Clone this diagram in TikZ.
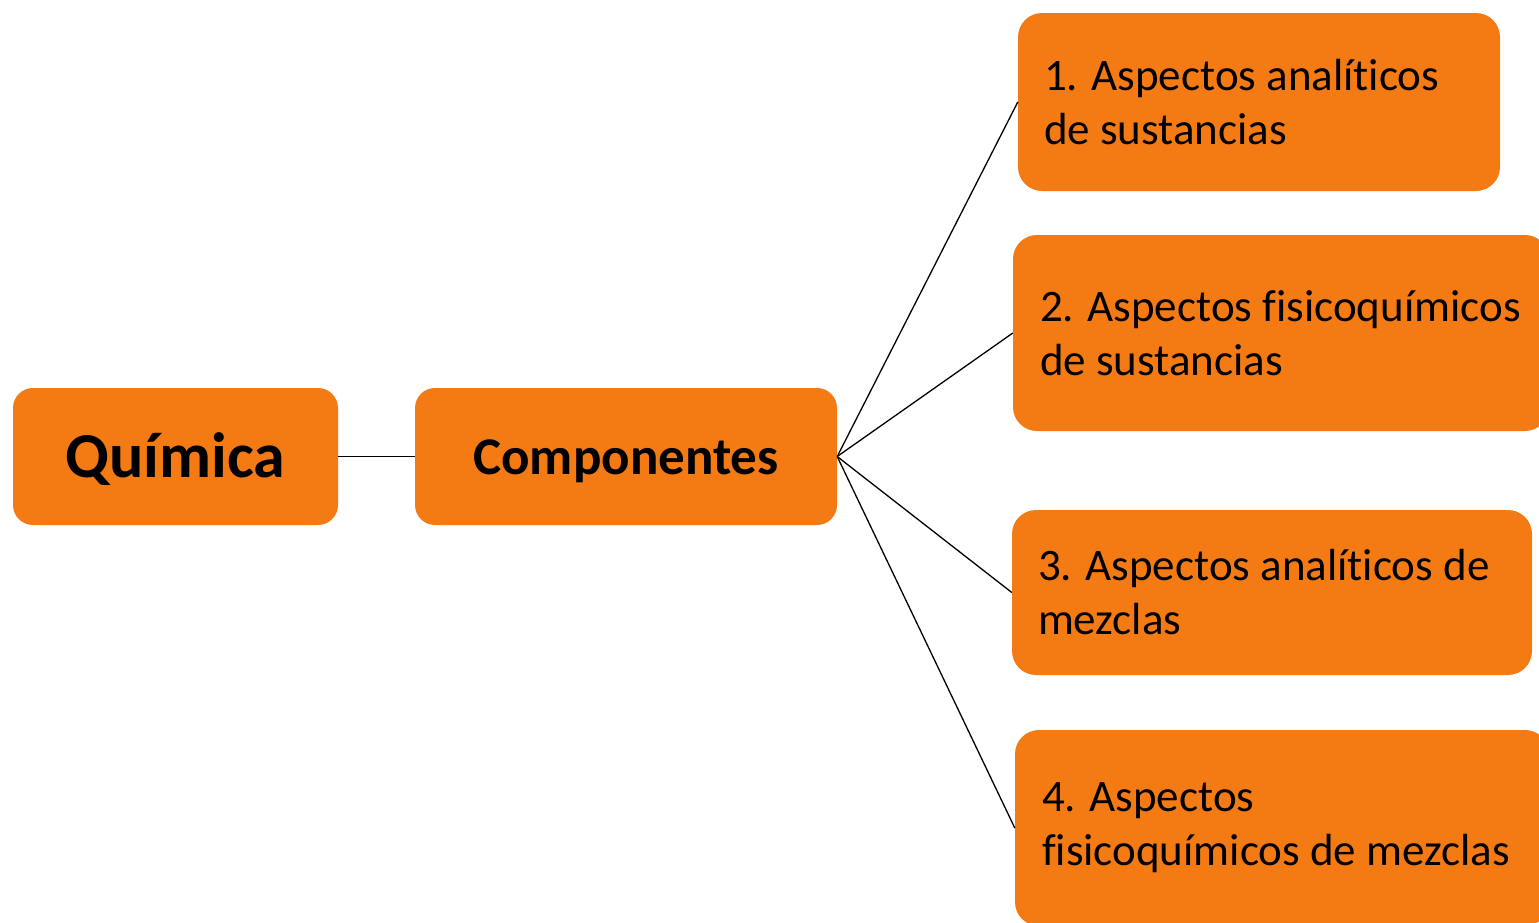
\documentclass[tikz,border=0pt]{standalone}
\usepackage{fontspec}
\setmainfont{Carlito}[Ligatures={NoCommon,NoContextual,NoRare}]
\definecolor{boxorange}{RGB}{244,122,20}
\begin{document}
\begin{tikzpicture}[x=1pt,y=-1pt,
  box/.style={fill=boxorange, draw=none, inner sep=0pt, rounded corners=24pt},
  btext/.style={anchor=west, inner sep=0pt, align=left, font=\fontsize{45}{54}\selectfont},
  conn/.style={draw=black, line width=1.3pt}]
\useasboundingbox (0,0) rectangle (1539,922);
\clip (0,0) rectangle (1539,922);
\node[box, rounded corners=20pt, minimum width=325pt, minimum height=137pt] (q) at (175.5,456.5) {};
\node[inner sep=0pt, font=\fontsize{64}{70}\selectfont\bfseries] (qt) at ([yshift=-3pt]q.center) {Química};
\node[box, rounded corners=20pt, minimum width=422pt, minimum height=137pt] (c) at (626,456.5) {};
\node[inner sep=0pt, font=\fontsize{53}{60}\selectfont\bfseries] (ct) at ([yshift=-5pt]c.center) {Componentes};
\node[box, minimum width=482pt, minimum height=178pt] (b1) at (1259,102) {};
\node[btext] (t1) at ([xshift=26pt]b1.west) {1. Aspectos analíticos\\de sustancias};
\node[box, minimum width=536pt, minimum height=196pt] (b2) at (1281,333) {};
\node[btext] (t2) at ([xshift=27pt]b2.west) {2. Aspectos fisicoquímicos\\de sustancias};
\node[box, minimum width=520pt, minimum height=165pt] (b3) at (1272,592.5) {};
\node[btext] (t3) at ([xshift=26pt]b3.west) {3. Aspectos analíticos de\\mezclas};
\node[box, minimum width=534pt, minimum height=196pt] (b4) at (1282,828) {};
\node[btext] (t4) at ([xshift=27pt]b4.west) {4. Aspectos\\fisicoquímicos de mezclas};
\draw[conn] (q.east) -- (c.west);
\draw[conn] (c.east) -- (b1.west);
\draw[conn] (c.east) -- (b2.west);
\draw[conn] (c.east) -- (b3.west);
\draw[conn] (c.east) -- (b4.west);
\end{tikzpicture}
\end{document}
